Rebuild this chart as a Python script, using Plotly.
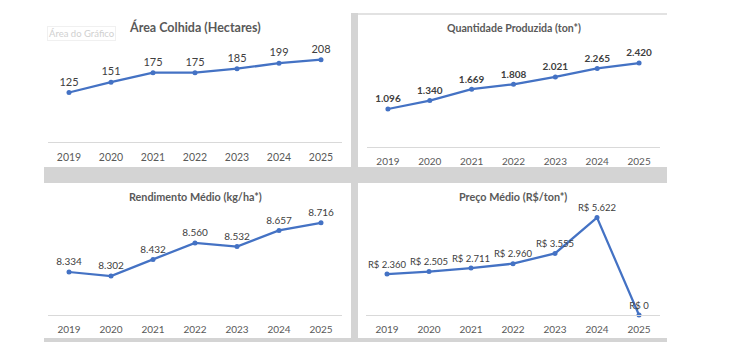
import plotly.graph_objects as go

W, H = 733, 358
years = ["2019", "2020", "2021", "2022", "2023", "2024", "2025"]

area_colhida = [125, 151, 175, 175, 185, 199, 208]
area_labels = ["125", "151", "175", "175", "185", "199", "208"]

quantidade = [1096, 1340, 1669, 1808, 2021, 2265, 2420]
quantidade_labels = ["1.096", "1.340", "1.669", "1.808", "2.021", "2.265", "2.420"]

rendimento = [8334, 8302, 8432, 8560, 8532, 8657, 8716]
rendimento_labels = ["8.334", "8.302", "8.432", "8.560", "8.532", "8.657", "8.716"]

preco = [2360, 2505, 2711, 2960, 3555, 5622, 0]
preco_labels = ["R$ 2.360", "R$ 2.505", "R$ 2.711", "R$ 2.960", "R$ 3.555", "R$ 5.622", "R$ 0"]

titles = ["Área Colhida (Hectares)", "Quantidade Produzida (ton*)",
          "Rendimento Médio (kg/ha*)", "Preço Médio (R$/ton*)"]

FONT = "Lato"
BLUE = "#4472C4"

def px(x):
    return x / W

def py(y):
    return 1 - y / H

# panel plot areas in pixels: (x0, x1, ytop, ybottom)
areas = [(48, 342, 43, 142), (367, 660, 43, 147), (48, 342, 212, 315), (366, 660, 211, 315)]
yranges = [[0, 250], [0, 3000], [8000, 8800], [0, 6000]]
series = [(area_colhida, area_labels), (quantidade, quantidade_labels),
          (rendimento, rendimento_labels), (preco, preco_labels)]
label_fonts = [dict(size=11, color="#404040", family=FONT),
               dict(size=10, color="#404040", family=FONT, weight="bold"),
               dict(size=10, color="#404040", family=FONT),
               dict(size=9.5, color="#404040", family=FONT)]
tick_sizes = [10.5, 10, 10, 10]
title_pos = [(195, 27, 12.5), (514, 28, 10.6), (195, 196, 10.8), (513, 196, 10.8)]

fig = go.Figure()
layout = dict(width=W, height=H, margin=dict(l=0, r=0, t=0, b=0),
              paper_bgcolor="white", plot_bgcolor="white", showlegend=False)

for i, ((vals, labs), (x0, x1, yt, yb)) in enumerate(zip(series, areas)):
    n = "" if i == 0 else str(i + 1)
    fig.add_trace(go.Scatter(
        x=years, y=vals, mode="lines+markers+text", text=labs,
        textposition="top center", textfont=label_fonts[i],
        line=dict(color=BLUE, width=2.25), marker=dict(color=BLUE, size=5),
        xaxis="x" + n, yaxis="y" + n, cliponaxis=False, hoverinfo="skip"))
    layout["xaxis" + n] = dict(domain=[px(x0), px(x1)], anchor="y" + n,
                                type="category", range=[-0.5, 6.5],
                                showline=True, linecolor="#d9d9d9", linewidth=1,
                                showgrid=False, zeroline=False, ticks="",
                                ticklabelstandoff=5,
                                tickfont=dict(size=tick_sizes[i], color="#595959", family=FONT),
                                fixedrange=True)
    layout["yaxis" + n] = dict(domain=[py(yb), py(yt)], anchor="x" + n,
                                range=yranges[i], visible=False, fixedrange=True)

annotations = []
for (tx, ty, ts), t in zip(title_pos, titles):
    annotations.append(dict(x=px(tx), y=py(ty), xref="paper", yref="paper",
                            text="<b>" + t + "</b>", showarrow=False,
                            xanchor="center", yanchor="middle",
                            font=dict(size=ts, color="#595959", family=FONT)))
annotations.append(dict(x=px(47), y=py(34), xref="paper", yref="paper",
                        text="Área do Gráfico", showarrow=False,
                        xanchor="left", yanchor="middle",
                        bordercolor="#f0f0f0", borderwidth=1, borderpad=1,
                        bgcolor="white",
                        font=dict(size=9.5, color="#d0d0d0", family=FONT)))
layout["annotations"] = annotations

GRAY = "#d4d4d4"
rects = [(44, 667, 167, 183, GRAY), (351, 358, 13, 342, GRAY),
         (44, 667, 338, 342, GRAY), (358, 667, 13, 15, "#e2e2e2")]
shapes = []
for x0, x1, y0, y1, c in rects:
    shapes.append(dict(type="rect", xref="paper", yref="paper",
                       x0=px(x0), x1=px(x1), y0=py(y1), y1=py(y0),
                       fillcolor=c, line=dict(width=0), layer="below"))
layout["shapes"] = shapes

fig.update_layout(**layout)
fig.write_html("out.html", config={"displayModeBar": False, "staticPlot": True},
               post_script="document.body.style.margin='0';document.body.style.overflow='hidden';")
